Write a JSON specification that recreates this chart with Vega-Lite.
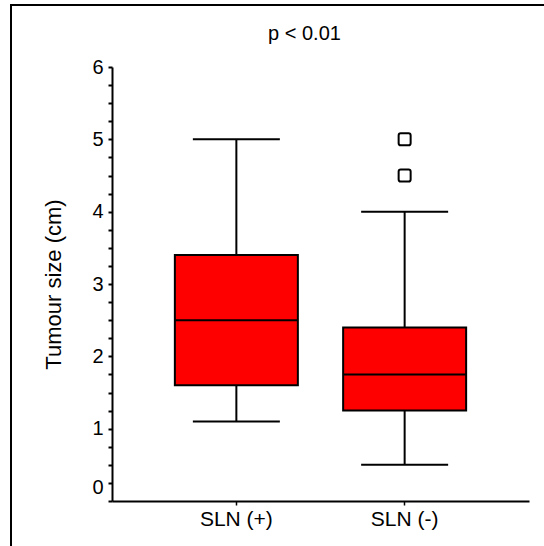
{
  "$schema": "https://vega.github.io/schema/vega-lite/v6.json",
  "width": 533,
  "height": 541,
  "autosize": {"type": "none"},
  "padding": {"left": 11, "top": 5, "right": 0, "bottom": 0},
  "background": "white",
  "config": {
    "font": "Liberation Sans",
    "view": {"stroke": null}
  },
  "title": {
    "text": "p < 0.01",
    "fontSize": 20,
    "fontWeight": "normal",
    "color": "black",
    "anchor": "middle",
    "frame": "group",
    "offset": -40,
    "dx": 27
  },
  "layer": [
    {
      "data": {"values": [{}]},
      "layer": [
        {
          "mark": {"type": "rule", "color": "black", "strokeWidth": 2, "strokeCap": "square"},
          "encoding": {"x": {"datum": 0, "type": "quantitative", "scale": {"domain": [0, 1], "nice": false}, "axis": null}}
        },
        {
          "mark": {"type": "rule", "color": "black", "strokeWidth": 2, "strokeCap": "square"},
          "encoding": {"y": {"datum": 1, "type": "quantitative", "scale": {"domain": [0, 1], "nice": false}, "axis": null}}
        }
      ]
    },
    {
      "data": {
        "values": [
          {"group": "SLN (+)", "min": 1.1, "q1": 1.6, "median": 2.5, "q3": 3.4, "max": 5},
          {"group": "SLN (-)", "min": 0.5, "q1": 1.25, "median": 1.75, "q3": 2.4, "max": 4}
        ]
      },
      "encoding": {
        "x": {
          "field": "group",
          "type": "nominal",
          "scale": {
            "type": "band",
            "domain": ["SLN (+)", "SLN (-)"],
            "range": [101, 518],
            "paddingInner": 0,
            "paddingOuter": 0.239
          },
          "axis": {
            "title": null,
            "orient": "bottom",
            "offset": -45,
            "domainColor": "black",
            "domainWidth": 2,
            "tickColor": "black",
            "tickWidth": 1.5,
            "tickSize": 4,
            "labelFontSize": 21,
            "labelColor": "black",
            "labelPadding": 3,
            "labelAngle": 0,
            "grid": false
          }
        }
      },
      "layer": [
        {
          "mark": {"type": "rule", "color": "black", "strokeWidth": 2},
          "encoding": {
            "y": {
              "field": "min",
              "type": "quantitative",
              "title": "Tumour size (cm)",
              "scale": {"domain": [0, 6], "range": [496, 62], "nice": false, "zero": false},
              "axis": {
                "orient": "left",
                "offset": -101,
                "values": [0, 0.25, 0.5, 0.75, 1, 1.25, 1.5, 1.75, 2, 2.25, 2.5, 2.75, 3, 3.25, 3.5, 3.75, 4, 4.25, 4.5, 4.75, 5, 5.25, 5.5, 5.75, 6],
                "tickCount": 40,
                "labelExpr": "datum.value > 0.2 && datum.value < 0.3 ? '0' : (datum.value >= 1 && datum.value % 1 == 0 ? format(datum.value, 'd') : '')",
                "labelOffset": {"condition": {"test": "datum.value > 0.2 && datum.value < 0.3", "value": 5}, "value": 0},
                "labelOverlap": false,
                "labelFlush": false,
                "grid": false,
                "domainColor": "black",
                "domainWidth": 2,
                "tickColor": "black",
                "tickWidth": 2,
                "tickSize": 4,
                "labelFontSize": 20,
                "labelColor": "black",
                "labelPadding": 5,
                "titleFontSize": 22,
                "titleFontWeight": "normal",
                "titleColor": "black",
                "titlePadding": 26
              }
            },
            "y2": {"field": "max"}
          }
        },
        {
          "mark": {"type": "tick", "orient": "horizontal", "size": 87, "thickness": 2, "color": "black", "opacity": 1},
          "encoding": {"y": {"field": "min", "type": "quantitative", "title": "Tumour size (cm)"}}
        },
        {
          "mark": {"type": "tick", "orient": "horizontal", "size": 87, "thickness": 2, "color": "black", "opacity": 1},
          "encoding": {"y": {"field": "max", "type": "quantitative", "title": "Tumour size (cm)"}}
        },
        {
          "mark": {"type": "bar", "width": 123, "fill": "#ff0000", "stroke": "black", "strokeWidth": 2, "opacity": 1},
          "encoding": {
            "y": {"field": "q1", "type": "quantitative", "title": "Tumour size (cm)"},
            "y2": {"field": "q3"}
          }
        },
        {
          "mark": {"type": "tick", "orient": "horizontal", "size": 123, "thickness": 2, "color": "black", "opacity": 1},
          "encoding": {"y": {"field": "median", "type": "quantitative", "title": "Tumour size (cm)"}}
        },
        {
          "data": {
            "values": [
              {"group": "SLN (-)", "value": 4.5},
              {"group": "SLN (-)", "value": 5}
            ]
          },
          "mark": {
            "type": "point",
            "shape": "M -0.65 -1 L 0.65 -1 Q 1 -1 1 -0.65 L 1 0.65 Q 1 1 0.65 1 L -0.65 1 Q -1 1 -1 0.65 L -1 -0.65 Q -1 -1 -0.65 -1 Z",
            "size": 144,
            "filled": false,
            "stroke": "black",
            "strokeWidth": 2,
            "opacity": 1
          },
          "encoding": {"y": {"field": "value", "type": "quantitative", "title": "Tumour size (cm)"}}
        }
      ]
    }
  ],
  "resolve": {"scale": {"x": "independent", "y": "independent"}}
}
